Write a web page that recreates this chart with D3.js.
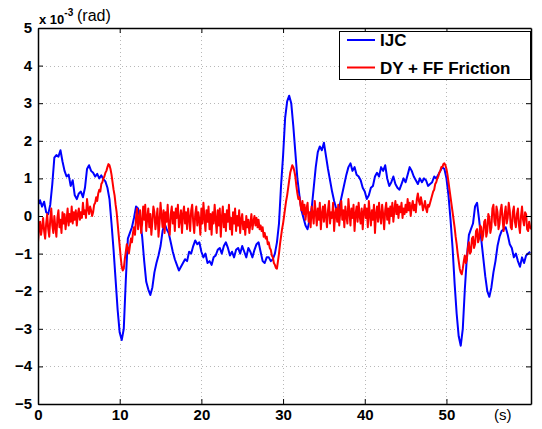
<!DOCTYPE html>
<html>
<head>
<meta charset="utf-8">
<script src="https://cdn.jsdelivr.net/npm/d3@7"></script>
<style>
  html, body { margin: 0; padding: 0; background: #fff; }
  svg { display: block; font-family: "Liberation Sans", Arial, Helvetica, sans-serif; }
</style>
</head>
<body>
<svg id="chart" width="542" height="429"></svg>
<script>
// ---- data (values in units of 1e-3 rad) ----
const seriesNames = ["IJC", "DY + FF Friction"];
const seriesColors = ["#0000ff", "#ff0000"];
const seriesSteps = [0.25, 0.125];   // sampling interval of each series, s
const xTicks = [0, 10, 20, 30, 40, 50];
const yTicks = [-5, -4, -3, -2, -1, 0, 1, 2, 3, 4, 5];

// IJC, every 0.25 s
const ijc = [
  0.30, 0.42, 0.25, 0.38, 0.10, 0.05, 0.30, 0.85, 1.55, 1.62, 1.58, 1.75,
  1.45, 1.20, 1.05, 1.10, 0.80, 0.95, 0.55, 0.45, 0.60, 0.65, 0.50, 0.75,
  1.25, 1.35, 1.20, 1.15, 1.05, 1.12, 1.00, 1.08, 0.98, 0.92, 0.75, 0.45,
  -0.20, -0.90, -1.70, -2.50, -3.10, -3.30, -3.00, -1.70, -0.60, -0.45, -0.30, -0.05,
  0.25, 0.20, -0.10, -0.55, -1.20, -1.75, -1.95, -2.10, -1.90, -1.50, -1.25, -1.05,
  -0.80, -0.40, -0.20, -0.35, -0.45, -0.70, -0.95, -1.15, -1.30, -1.45, -1.35, -1.25,
  -1.15, -1.20, -0.95, -1.00, -0.80, -0.65, -0.75, -0.70, -0.95, -1.10, -1.00, -1.25,
  -1.20, -1.30, -1.10, -1.05, -0.90, -0.85, -1.00, -0.80, -0.70, -0.85, -1.05, -0.95,
  -1.10, -0.90, -0.85, -1.00, -0.80, -0.95, -1.10, -0.85, -0.95, -1.10, -0.90, -0.75,
  -0.70, -0.95, -1.20, -1.25, -1.10, -1.10, -1.20, -1.15, -1.00, -0.70, -0.20, 0.80,
  1.60, 2.60, 3.05, 3.20, 3.00, 2.40, 1.70, 1.00, 0.55, 0.15, -0.05, -0.25,
  -0.35, -0.10, 0.20, 0.75, 1.30, 1.70, 1.85, 1.75, 1.95, 1.60, 1.25, 0.95,
  0.65, 0.40, 0.20, 0.10, 0.35, 0.60, 0.85, 1.10, 1.30, 1.40, 1.20, 1.30,
  1.10, 1.05, 0.95, 0.75, 0.65, 0.45, 0.55, 0.75, 0.80, 1.05, 1.15, 1.05,
  1.30, 1.20, 1.35, 1.00, 0.80, 0.90, 1.05, 0.85, 0.75, 0.70, 0.85, 1.00,
  0.90, 1.10, 1.30, 1.20, 1.05, 0.95, 0.85, 1.00, 0.90, 1.00, 0.95, 0.80,
  0.85, 0.90, 1.05, 1.00, 1.10, 1.20, 1.30, 1.25, 1.00, 0.55, -0.10, -0.85,
  -1.80, -2.60, -3.20, -3.45, -3.00, -1.95, -1.10, -0.50, -0.35, -0.20, 0.25, 0.35,
  -0.10, -0.60, -1.10, -1.60, -2.00, -2.15, -1.90, -1.50, -1.20, -0.80, -0.55, -0.40,
  -0.35, -0.30, -0.50, -0.75, -0.85, -1.10, -1.00, -1.20, -1.35, -1.10, -1.25, -1.05,
  -1.00, -0.95
];

// DY + FF Friction, every 0.125 s
const dyff = [
  // 0 - 7 s
  -0.70, -0.35, -0.15, -0.50, -0.30, -0.05, -0.40, -0.60, -0.20, 0.05, -0.35, -0.55,
  -0.10, 0.20, -0.25, -0.45, 0.00, -0.30, -0.55, -0.05, 0.15, -0.30, -0.10, -0.45,
  0.10, -0.20, 0.05, -0.35, -0.10, 0.20, -0.25, 0.05, -0.15, 0.25, -0.20, 0.10,
  -0.10, 0.15, -0.25, 0.05, 0.20, -0.10, 0.10, -0.05, 0.35, 0.05, 0.15, -0.05,
  0.45, 0.20, 0.05, 0.25, 0.15, 0.00, 0.10, 0.30,
  // 7 - 12 s
  0.35, 0.50, 0.40, 0.60, 0.70, 0.65, 0.85, 0.90, 1.00, 1.05, 1.15, 1.20,
  1.30, 1.38, 1.35, 1.25, 1.10, 0.90, 0.70, 0.55, 0.30, 0.10, -0.20, -0.50,
  -0.80, -1.10, -1.35, -1.45, -1.40, -1.15, -0.95, -0.75, -0.85, -1.00, -0.80, -0.60,
  -0.70, -0.45, -0.30, -0.50,
  // 12 - 27 s
  -0.05, 0.20, -0.35, -0.10, 0.15, -0.45, -0.20, 0.25, -0.10, 0.30, -0.40, -0.05,
  0.20, -0.30, 0.05, -0.50, -0.15, 0.25, 0.10, -0.35, -0.10, 0.20, -0.55, -0.20,
  0.35, 0.00, -0.30, 0.15, -0.45, 0.10, -0.15, 0.30, -0.25, -0.50, 0.05, 0.25,
  -0.20, 0.10, -0.40, 0.20, -0.05, 0.30, -0.30, -0.10, 0.15, -0.45, 0.05, 0.25,
  -0.20, 0.10, -0.35, 0.20, -0.05, -0.40, 0.15, 0.30, -0.15, -0.45, 0.05, 0.25,
  -0.25, 0.10, -0.10, -0.50, 0.20, -0.20, 0.35, -0.05, -0.40, 0.15, -0.15, 0.25,
  -0.35, 0.05, -0.50, 0.10, -0.20, 0.30, -0.10, -0.45, 0.15, -0.25, 0.20, -0.55,
  -0.05, 0.25, -0.30, 0.05, -0.40, 0.15, -0.15, 0.30, -0.35, -0.05, -0.50, 0.10,
  -0.20, 0.20, -0.40, 0.00, -0.25, 0.15, -0.45, -0.10, 0.05, -0.35, -0.15, -0.50,
  0.00, -0.30, -0.10, -0.45, -0.20, 0.05, -0.35, -0.15, 0.00, -0.25, -0.05, -0.30,
  // 27 - 33 s
  -0.10, -0.35, -0.25, -0.40, -0.30, -0.55, -0.45, -0.60, -0.55, -0.75, -0.70, -0.85,
  -0.90, -1.05, -1.10, -1.25, -1.30, -1.38, -1.40, -1.20, -1.00, -0.75, -0.55, -0.35,
  -0.20, 0.00, 0.20, 0.40, 0.55, 0.75, 0.95, 1.15, 1.25, 1.35, 1.30, 1.20,
  1.05, 0.80, 0.60, 0.45, 0.50, 0.30, 0.15, 0.40, 0.05, 0.30, -0.10, 0.20,
  // 33 - 48 s
  0.35, -0.15, 0.10, -0.30, 0.25, 0.05, -0.20, 0.40, 0.10, -0.25, 0.20, -0.10,
  0.35, -0.35, 0.05, 0.25, -0.15, 0.30, 0.00, -0.30, 0.15, 0.40, -0.20, 0.10,
  -0.05, 0.35, -0.40, 0.05, 0.20, -0.15, 0.30, -0.25, 0.10, 0.40, -0.10, 0.15,
  -0.30, 0.25, 0.00, -0.20, 0.45, 0.10, -0.25, 0.20, -0.05, 0.30, -0.40, 0.05,
  0.25, -0.15, 0.35, 0.00, -0.20, 0.20, -0.35, 0.10, 0.30, -0.05, 0.20, -0.30,
  0.40, 0.05, -0.25, 0.15, -0.10, 0.30, -0.45, 0.05, 0.25, -0.15, 0.35, 0.00,
  -0.20, 0.30, 0.05, -0.35, 0.15, 0.35, -0.10, 0.20, -0.20, 0.25, 0.00, 0.35,
  -0.15, 0.15, 0.40, 0.05, 0.30, -0.05, 0.25, 0.10, 0.35, -0.05, 0.20, 0.05,
  0.30, 0.10, 0.45, 0.15, 0.35, 0.00, 0.25, 0.40, 0.15, 0.30, 0.10, 0.45,
  0.60, 0.40, 0.30, 0.50, 0.35, 0.15, 0.25, 0.40, 0.20, 0.10, 0.30, 0.25,
  // 48 - 53 s
  0.35, 0.45, 0.55, 0.65, 0.70, 0.85, 0.90, 1.00, 1.05, 1.15, 1.20, 1.30,
  1.30, 1.38, 1.40, 1.35, 1.25, 1.10, 0.90, 0.70, 0.50, 0.30, 0.10, -0.10,
  -0.30, -0.55, -0.75, -1.00, -1.20, -1.40, -1.50, -1.55, -1.40, -1.20, -1.05, -1.25,
  -1.15, -0.85, -0.70, -1.00,
  // 53 - 60.4 s
  -0.95, -0.60, -0.55, -0.85, -0.75, -0.40, -0.35, -0.70, -0.60, -0.25, -0.30, -0.65,
  -0.50, -0.15, -0.10, -0.55, -0.40, 0.05, -0.05, -0.45, -0.30, 0.20, 0.30, -0.15,
  -0.25, 0.25, 0.10, -0.35, -0.20, 0.15, 0.30, -0.10, -0.40, 0.05, 0.25, -0.20,
  -0.05, 0.35, 0.15, -0.30, -0.35, 0.10, 0.25, -0.15, -0.30, 0.05, 0.20, -0.25,
  -0.45, 0.00, 0.25, -0.10, -0.25, 0.10, 0.05, -0.35, -0.40, -0.15, -0.30, -0.35
];

// ---- layout ----
const plot = { left: 38, right: 531, top: 28, bottom: 404 };

const svg = d3.select("#chart");
const x = d3.scaleLinear().domain([0, 60.35]).range([plot.left, plot.right]);
const y = d3.scaleLinear().domain([-5, 5]).range([plot.bottom, plot.top]);

// grid
const grid = svg.append("g").attr("stroke", "#b8b8b8").attr("stroke-width", 1).attr("stroke-dasharray", "1,3");
grid.selectAll(".gx").data(xTicks.filter(d => d > 0)).join("line")
  .attr("x1", d => Math.round(x(d)) + 0.5).attr("x2", d => Math.round(x(d)) + 0.5)
  .attr("y1", plot.top).attr("y2", plot.bottom);
grid.selectAll(".gy").data(yTicks.filter(d => d > -5 && d < 5)).join("line")
  .attr("y1", d => Math.round(y(d)) + 0.5).attr("y2", d => Math.round(y(d)) + 0.5)
  .attr("x1", plot.left).attr("x2", plot.right);

// clip
svg.append("defs").append("clipPath").attr("id", "clip").append("rect")
  .attr("x", plot.left).attr("y", plot.top)
  .attr("width", plot.right - plot.left).attr("height", plot.bottom - plot.top);

const data = [ijc, dyff];
svg.append("g").attr("clip-path", "url(#clip)")
  .selectAll("path").data(data).join("path")
  .attr("d", (d, s) => d3.line().x((v, i) => x(i * seriesSteps[s])).y(v => y(v))(d))
  .attr("fill", "none")
  .attr("stroke", (d, i) => seriesColors[i])
  .attr("stroke-width", 2)
  .attr("stroke-linejoin", "round");

// axes (ticks inward, full box)
const tickFont = "bold 15px 'Liberation Sans', Arial, sans-serif";
const xAxisB = d3.axisBottom(x).tickValues(xTicks).tickSizeInner(-5).tickSizeOuter(0).tickPadding(5).tickFormat(d3.format("d"));
const xAxisT = d3.axisTop(x).tickValues(xTicks).tickSizeInner(-5).tickSizeOuter(0).tickFormat("");
const yAxisL = d3.axisLeft(y).tickValues(yTicks).tickSizeInner(-5).tickSizeOuter(0).tickPadding(6).tickFormat(d3.format("d"));
const yAxisR = d3.axisRight(y).tickValues(yTicks).tickSizeInner(-5).tickSizeOuter(0).tickFormat("");

function styleAxis(g) {
  g.select(".domain").attr("stroke", "#000").attr("stroke-width", 1.5);
  g.selectAll(".tick line").attr("stroke", "#000").attr("stroke-width", 1);
  g.selectAll(".tick text").attr("fill", "#000").style("font", tickFont);
}
svg.append("g").attr("transform", `translate(0,${plot.bottom})`).call(xAxisB).call(styleAxis);
svg.append("g").attr("transform", `translate(0,${plot.top})`).call(xAxisT).call(styleAxis);
svg.append("g").attr("transform", `translate(${plot.left},0)`).call(yAxisL).call(styleAxis);
svg.append("g").attr("transform", `translate(${plot.right},0)`).call(yAxisR).call(styleAxis);
svg.selectAll(".tick text").attr("dy", function() { return d3.select(this).attr("dy") === "0.32em" ? "0.30em" : d3.select(this).attr("dy"); });

// exponent label and units
const ex = svg.append("text").attr("x", 39).attr("y", 24).attr("fill", "#000")
  .style("font-family", "'Liberation Sans', Arial, sans-serif");
ex.append("tspan").attr("font-size", 13).attr("font-weight", "bold").text("x 10");
ex.append("tspan").attr("font-size", 10).attr("font-weight", "bold").attr("dy", -8).text("-3");
svg.append("text").attr("x", 77).attr("y", 21).attr("fill", "#000")
  .attr("font-size", 16).text("(rad)");
svg.append("text").attr("x", 494).attr("y", 420).attr("fill", "#000")
  .attr("font-size", 15).text("(s)");

// legend
const lg = svg.append("g");
lg.append("rect").attr("x", 339.5).attr("y", 31.5).attr("width", 191).attr("height", 48)
  .attr("fill", "#fff").attr("stroke", "#000").attr("stroke-width", 1);
const items = lg.selectAll(".item").data(seriesNames).join("g")
  .attr("transform", (d, i) => `translate(0,${40 + i * 27.5})`);
items.append("line").attr("x1", 347).attr("x2", 375).attr("y1", 0).attr("y2", 0)
  .attr("stroke", (d, i) => seriesColors[i]).attr("stroke-width", 2);
items.append("text").attr("x", 380).attr("y", 6).attr("fill", "#000")
  .style("font", "bold 17px 'Liberation Sans', Arial, sans-serif").text(d => d);
</script>
</body>
</html>
